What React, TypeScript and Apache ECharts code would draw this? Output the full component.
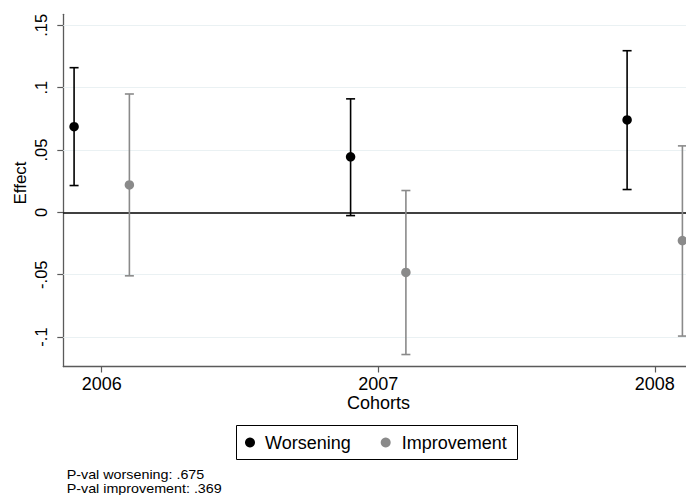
import React, { useEffect, useRef } from "react";
import * as echarts from "echarts";

const cohorts = [2006, 2007, 2008];
const xTickLabels = ["2006", "2007", "2008"];
const worseningEffect = [0.0687, 0.0445, 0.0741];
const worseningLow = [0.0215, -0.0026, 0.0183];
const worseningHigh = [0.116, 0.091, 0.1296];
const improvementEffect = [0.022, -0.0482, -0.0226];
const improvementLow = [-0.0509, -0.114, -0.0992];
const improvementHigh = [0.0949, 0.0175, 0.0533];
const yTicks = [-0.1, -0.05, 0, 0.05, 0.1, 0.15];
const yTickLabels = ["-.1", "-.05", "0", ".05", ".1", ".15"];
const legendNames = ["Worsening", "Improvement"];
const pvalLines = ["P-val worsening: .675", "P-val improvement: .369"];

const OFFSET = 0.1;
const FONT = "'Liberation Sans', Arial, Helvetica, sans-serif";
const BLACK = "#000000";
const GRAY = "#8a8a8a";
const AXIS = "#5a5a5a";

function ciRender(color: string) {
  return (params: any, api: any) => {
    const x = api.value(0);
    const lo = api.value(1);
    const hi = api.value(2);
    const top = api.coord([x, hi]);
    const bot = api.coord([x, lo]);
    const w = 4.5;
    const style = { stroke: color, lineWidth: 1.6 };
    return {
      type: "group",
      children: [
        { type: "line", shape: { x1: top[0], y1: top[1], x2: bot[0], y2: bot[1] }, style },
        { type: "line", shape: { x1: top[0] - w, y1: top[1], x2: top[0] + w, y2: top[1] }, style },
        { type: "line", shape: { x1: bot[0] - w, y1: bot[1], x2: bot[0] + w, y2: bot[1] }, style },
      ],
    };
  };
}

export default function App() {
  const ref = useRef<HTMLDivElement>(null);
  useEffect(() => {
    if (!ref.current) return;
    const chart = echarts.init(ref.current, undefined, { renderer: "svg" });
    const wCI = cohorts.map((c, i) => [c - OFFSET, worseningLow[i], worseningHigh[i]]);
    const iCI = cohorts.map((c, i) => [c + OFFSET, improvementLow[i], improvementHigh[i]]);
    const wPts = cohorts.map((c, i) => [c - OFFSET, worseningEffect[i]]);
    const iPts = cohorts.map((c, i) => [c + OFFSET, improvementEffect[i]]);

    const gridLines = yTicks
      .filter((v) => v !== 0)
      .map((v) => ({ yAxis: v, lineStyle: { color: "#eaf1f3", width: 1, type: "solid" } }));

    const legendY = 442.5;
    chart.setOption({
      animation: false,
      backgroundColor: "#ffffff",
      textStyle: { fontFamily: FONT },
      grid: { left: 63.3, top: 14.3, right: 0, bottom: 128.5, containLabel: false },
      xAxis: {
        type: "value",
        min: 2005.861,
        max: 2008.113,
        axisLine: { show: true, onZero: false, lineStyle: { color: AXIS, width: 1.3 } },
        axisTick: { show: true, length: 6, customValues: cohorts, lineStyle: { color: AXIS, width: 1.2 } },
        axisLabel: {
          customValues: cohorts,
          formatter: (v: number) => xTickLabels[cohorts.indexOf(Math.round(v))] ?? "",
          color: BLACK,
          fontSize: 18,
          fontFamily: FONT,
          margin: 8,
        },
        splitLine: { show: false },
      },
      yAxis: {
        type: "value",
        min: -0.1236,
        max: 0.1588,
        axisLine: { show: true, onZero: false, lineStyle: { color: AXIS, width: 1.3 } },
        axisTick: { show: true, length: 6, customValues: yTicks, lineStyle: { color: AXIS, width: 1.2 } },
        axisLabel: {
          customValues: yTicks,
          formatter: (v: number) => {
            const idx = yTicks.findIndex((t) => Math.abs(t - v) < 1e-6);
            return idx >= 0 ? yTickLabels[idx] : "";
          },
          rotate: 90,
          color: BLACK,
          fontSize: 16.5,
          fontFamily: FONT,
          margin: 14,
        },
        splitLine: { show: false },
      },
      graphic: [
        {
          type: "text",
          x: 20,
          y: 183,
          rotation: Math.PI / 2,
          style: {
            text: "Effect",
            fill: BLACK,
            font: `17px ${FONT}`,
            textAlign: "center",
            textVerticalAlign: "middle",
          },
        },
        {
          type: "text",
          x: 378.5,
          y: 403,
          style: {
            text: "Cohorts",
            fill: BLACK,
            font: `18px ${FONT}`,
            textAlign: "center",
            textVerticalAlign: "middle",
          },
        },
        {
          type: "rect",
          shape: { x: 236.5, y: 425.5, width: 281, height: 34 },
          style: { fill: "#ffffff", stroke: BLACK, lineWidth: 1 },
        },
        {
          type: "circle",
          shape: { cx: 250, cy: legendY, r: 5 },
          style: { fill: BLACK },
        },
        {
          type: "text",
          x: 265,
          y: legendY,
          style: {
            text: legendNames[0],
            fill: BLACK,
            font: `18px ${FONT}`,
            textAlign: "left",
            textVerticalAlign: "middle",
          },
        },
        {
          type: "circle",
          shape: { cx: 385.7, cy: legendY, r: 5 },
          style: { fill: GRAY },
        },
        {
          type: "text",
          x: 401.7,
          y: legendY,
          style: {
            text: legendNames[1],
            fill: BLACK,
            font: `18px ${FONT}`,
            textAlign: "left",
            textVerticalAlign: "middle",
          },
        },
        {
          type: "text",
          x: 66.7,
          y: 474,
          scaleX: 1.06,
          style: {
            text: pvalLines[0],
            fill: BLACK,
            font: `13.5px ${FONT}`,
            textAlign: "left",
            textVerticalAlign: "middle",
          },
        },
        {
          type: "text",
          x: 66.7,
          y: 488,
          scaleX: 1.06,
          style: {
            text: pvalLines[1],
            fill: BLACK,
            font: `13.5px ${FONT}`,
            textAlign: "left",
            textVerticalAlign: "middle",
          },
        },
      ],
      series: [
        {
          name: "grid",
          type: "line",
          data: [],
          z: 1,
          silent: true,
          markLine: {
            silent: true,
            symbol: "none",
            z: 1,
            label: { show: false },
            data: [
              ...gridLines,
              { yAxis: 0, lineStyle: { color: BLACK, width: 1.5, type: "solid" } },
            ],
          },
        },
        {
          name: "Worsening CI",
          type: "custom",
          data: wCI,
          encode: { x: 0, y: [1, 2] },
          renderItem: ciRender(BLACK),
          z: 3,
          silent: true,
        },
        {
          name: "Improvement CI",
          type: "custom",
          data: iCI,
          encode: { x: 0, y: [1, 2] },
          renderItem: ciRender(GRAY),
          z: 3,
          silent: true,
        },
        {
          name: legendNames[0],
          type: "scatter",
          data: wPts,
          symbol: "circle",
          symbolSize: 9.5,
          itemStyle: { color: BLACK, opacity: 1 },
          z: 4,
        },
        {
          name: legendNames[1],
          type: "scatter",
          data: iPts,
          symbol: "circle",
          symbolSize: 9.5,
          itemStyle: { color: GRAY, opacity: 1 },
          z: 4,
        },
      ],
    });
    return () => chart.dispose();
  }, []);
  return (
    <div
      ref={ref}
      style={{ position: "fixed", left: 0, top: 0, width: 686, height: 495, background: "#fff" }}
    />
  );
}
